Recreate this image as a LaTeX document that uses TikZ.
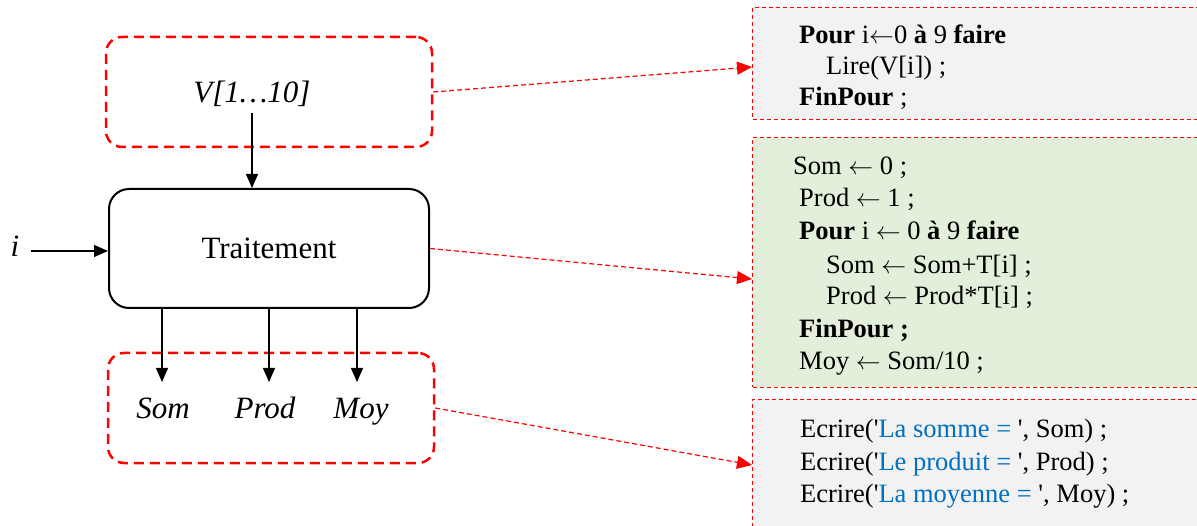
\documentclass[tikz,border=0pt]{standalone}
\usepackage{fontspec}
\setmainfont{Liberation Serif}[Ligatures=TeXOff]
\usetikzlibrary{arrows.meta}
\definecolor{redd}{RGB}{255,0,0}
\definecolor{graybg}{RGB}{242,242,242}
\definecolor{greenbg}{RGB}{226,239,218}
\definecolor{blueT}{RGB}{0,112,192}
\newcommand{\larr}{$\leftarrow$}
\begin{document}
\begin{tikzpicture}[x=1pt,y=-1pt,
 big/.style={font=\fontsize{31}{37}\selectfont, inner sep=0},
 bigit/.style={big, font=\fontsize{31}{37}\selectfont\itshape, anchor=base},
 code/.style={font=\fontsize{26.5}{32}\selectfont, anchor=base west, inner sep=0},
 dbox/.style={draw=redd, line width=2.5pt, dash pattern=on 10pt off 6pt, rounded corners=16pt, minimum width=326pt, minimum height=110pt},
 cbox/.style={draw=redd, line width=1pt, dash pattern=on 4pt off 3pt, anchor=north west, minimum width=500pt},
 link/.style={draw=redd, line width=1.2pt, dash pattern=on 5pt off 3pt, -{Triangle[length=15pt,width=13pt]}},
 arr/.style={line width=1.3pt, -{Triangle[length=14pt,width=12pt]}},
]
\clip (0,0) rectangle (1197,526);
\fill[white] (0,0) rectangle (1197,526);

% left side
\node[dbox] (in) at (269,92) {};
\node[bigit] (v) at (252,103) {V[1…10]};
\node[draw, line width=2pt, rounded corners=20pt, minimum width=320pt, minimum height=119pt, big] (tr) at (269,248.5) {Traitement};
\node[bigit] (i) at (15,257) {i};
\coordinate (istart) at (31,251);
\coordinate (vstart) at (252,113);
\draw[arr] (vstart) -- (vstart |- tr.north);
\draw[arr] (istart) -- (istart -| tr.west);

\node[dbox] (out) at (271,408) {};
\node[bigit] (som) at (163,419) {Som};
\node[bigit] (prod) at (265,419) {Prod};
\node[bigit] (moy) at (361,419) {Moy};
\coordinate (a1) at (162,382);
\coordinate (a2) at (269,382);
\coordinate (a3) at (357,382);
\draw[arr] (a1 |- tr.south) -- (a1);
\draw[arr] (a2 |- tr.south) -- (a2);
\draw[arr] (a3 |- tr.south) -- (a3);

% right side boxes
\node[cbox, fill=graybg, minimum height=112pt] (c1) at (752,7) {};
\node[cbox, fill=greenbg, minimum height=250pt] (c2) at (752,137) {};
\node[cbox, fill=graybg, minimum height=150pt] (c3) at (752,399) {};

\node[code] (l11) at (799,44) {\textbf{Pour} i\larr0 \textbf{à} 9 \textbf{faire}};
\node[code] (l12) at (826,75) {Lire(V[i]) ;};
\node[code] (l13) at (799,106) {\textbf{FinPour} ;};

\node[code] (l21) at (793,175) {Som \larr{} 0 ;};
\node[code] (l22) at (799,207) {Prod \larr{} 1 ;};
\node[code] (l23) at (799,240) {\textbf{Pour} i \larr{} 0 \textbf{à} 9 \textbf{faire}};
\node[code] (l24) at (826,274) {Som \larr{} Som+T[i] ;};
\node[code] (l25) at (826,305) {Prod \larr{} Prod*T[i] ;};
\node[code] (l26) at (799,338) {\textbf{FinPour ;}};
\node[code] (l27) at (799,370) {Moy \larr{} Som/10 ;};

\node[code] (l31) at (800,438) {Ecrire('\textcolor{blueT}{La somme = }', Som) ;};
\node[code] (l32) at (800,471) {Ecrire('\textcolor{blueT}{Le produit = }', Prod) ;};
\node[code] (l33) at (800,502) {Ecrire('\textcolor{blueT}{La moyenne = }', Moy) ;};

% links
\coordinate (t1) at (752,67);
\coordinate (t2) at (752,279);
\coordinate (t3) at (752,465);
\draw[link] (in.east) -- (t1);
\draw[link] (tr.east) -- (t2);
\draw[link] (out.east) -- (t3);
\end{tikzpicture}
\end{document}
